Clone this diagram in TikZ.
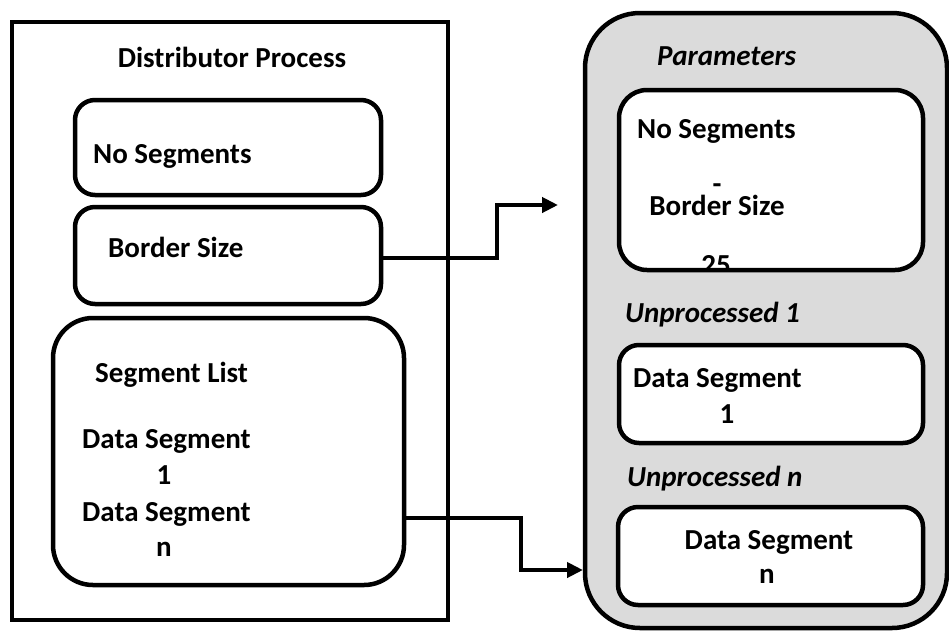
\documentclass[tikz,border=0pt]{standalone}
\usepackage{fontspec}
\setmainfont{Carlito}
\usetikzlibrary{arrows.meta}

\tikzset{
  frame/.style={draw=black, line width=4.5pt, inner sep=0pt},
  box/.style={draw=black, line width=4.5pt, fill=white, rounded corners=20pt, inner sep=0pt},
  lbl/.style={font=\bfseries\fontsize{29}{35}\selectfont, inner sep=0pt, anchor=base},
  lblw/.style={lbl, anchor=base west},
  ilbl/.style={font=\bfseries\itshape\fontsize{29}{35}\selectfont, inner sep=0pt, anchor=base west},
  conn/.style={draw=black, line width=4pt, -{Triangle[length=16pt,width=15pt]}}
}

\begin{document}
\begin{tikzpicture}[x=1pt,y=-1pt]
  \useasboundingbox (0,0) rectangle (949,632);

  % distributor process
  \node[frame, minimum width=436pt, minimum height=598pt] (dist) at (230,321) {};
  \node[lbl] (disttitle) at (232,67) {Distributor Process};

  \node[box, minimum width=306pt, minimum height=95pt] (noseg) at (228,147.5) {};
  \node[lblw] (nosegtxt) at (93,163) {No Segments};

  \node[box, minimum width=306pt, minimum height=97pt] (border) at (228,255.5) {};
  \node[lblw] (bordertxt) at (108,257) {Border Size};

  \node[box, rounded corners=40pt, minimum width=351pt, minimum height=267pt] (seglist) at (228.5,451.5) {};
  \node[lblw] (segtitle) at (95,382) {Segment List};
  \node[lblw] (ds1a) at (82,448) {Data Segment};
  \node[lbl] (ds1b) at (164,484) {1};
  \node[lblw] (dsna) at (82,521) {Data Segment};
  \node[lbl] (dsnb) at (164,556) {n};

  % worker side
  \node[frame, fill=gray!28, rounded corners=55pt, minimum width=362pt, minimum height=615pt] (worker) at (766,320.5) {};
  \node[ilbl] (params) at (657,65) {Parameters};

  \node[box, draw=none, rounded corners=28pt, minimum width=304pt, minimum height=180pt] (pbox) at (771,180) {};
  \begin{scope}
    \clip[rounded corners=26pt] (621,92) rectangle (921,268);
    \node[lblw] (pnoseg) at (637,138) {No Segments};
    % the base anchor of a two-line node sits on its last line
    \node[lbl, align=center, font=\bfseries\fontsize{29}{22}\selectfont] (pborder) at (717,215) {-\\Border Size};
    \node[lbl] (pval) at (716,274) {25};
  \end{scope}
  \node[box, fill=none, rounded corners=28pt, minimum width=304pt, minimum height=180pt] (pboxedge) at (pbox.center) {};

  \node[ilbl] (unp1) at (625,322) {Unprocessed 1};
  \node[box, minimum width=304pt, minimum height=98pt] (u1box) at (771,394) {};
  \node[lblw] (u1a) at (633,387) {Data Segment};
  \node[lbl] (u1b) at (727,423) {1};

  \node[ilbl] (unpn) at (627,486) {Unprocessed n};
  \node[box, minimum width=305pt, minimum height=98pt] (unbox) at (770.5,556) {};
  \node[lbl] (una) at (769,549) {Data Segment};
  \node[lbl] (unb) at (767,583) {n};

  % connectors
  \coordinate (s1) at (border.east |- 0,258);
  \coordinate (j1) at (497,205);
  \coordinate (t1) at (558,205);
  \draw[conn] (s1) -| (j1) -- (t1);

  \coordinate (s2) at (seglist.east |- 0,518);
  \coordinate (j2) at (521,570);
  \coordinate (t2) at (583,570);
  \draw[conn] (s2) -| (j2) -- (t2);
\end{tikzpicture}
\end{document}
